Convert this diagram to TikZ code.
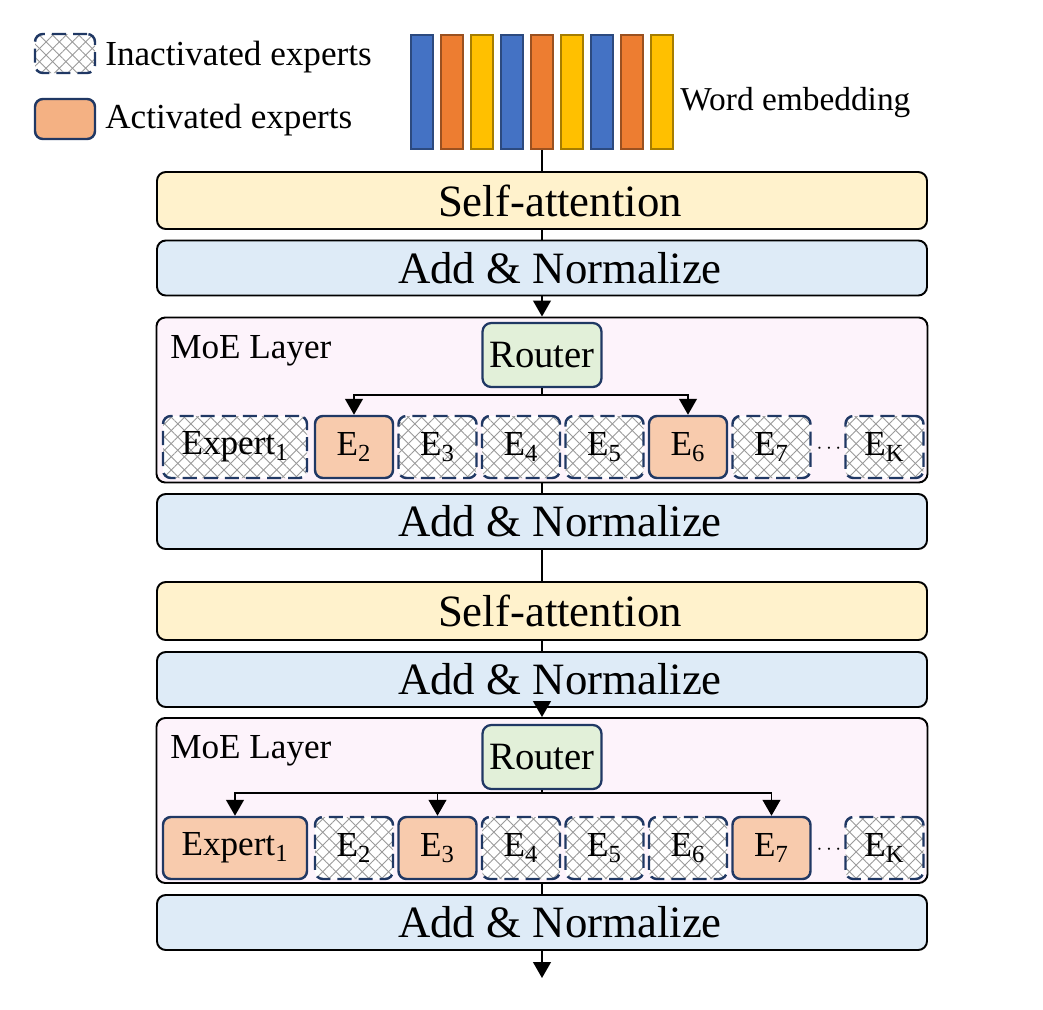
\documentclass[tikz,border=0pt]{standalone}
\usepackage{fontspec}
\setmainfont{Liberation Serif}
\usetikzlibrary{arrows.meta,patterns.meta}
\definecolor{navy}{HTML}{203864}
\definecolor{sacol}{HTML}{FFF2CC}
\definecolor{ancol}{HTML}{DEEBF7}
\definecolor{moecol}{HTML}{FDF3FB}
\definecolor{routercol}{HTML}{E2F0D9}
\definecolor{actcol}{HTML}{F8CBAD}
\definecolor{legactcol}{HTML}{F4B183}
\definecolor{hatchcol}{HTML}{9A9A9A}
\definecolor{wblue}{HTML}{4472C4}
\definecolor{worange}{HTML}{ED7D31}
\definecolor{wyellow}{HTML}{FFC000}
\begin{document}
\begin{tikzpicture}[
    every node/.style={inner sep=0pt},
    tip/.style={-{Triangle[length=9pt,width=10pt]}},
    wire/.style={line width=1.1pt},
    layerbox/.style={draw, line width=1.1pt, rounded corners=5pt, minimum width=15.4cm,
      execute at begin node=\hspace*{0.72cm}, font=\fontsize{25.5}{30}\selectfont},
    sabox/.style={layerbox, fill=sacol},
    anbox/.style={layerbox, fill=ancol, minimum height=1.1cm},
    moebox/.style={draw, line width=1.1pt, rounded corners=5pt, fill=moecol, minimum width=15.42cm, minimum height=3.3cm},
    router/.style={draw=navy, line width=1.3pt, rounded corners=5pt, fill=routercol,
      minimum width=2.38cm, minimum height=1.28cm, font=\fontsize{22}{26}\selectfont},
    expert/.style={draw=navy, line width=1.4pt, rounded corners=4.5pt, minimum width=1.56cm,
      minimum height=1.24cm, font=\fontsize{20}{24}\selectfont},
    act/.style={expert, fill=actcol},
    inact/.style={expert, dash pattern=on 8pt off 4pt, preaction={fill=white},
      preaction={pattern={Lines[angle=45,distance=5.3pt,line width=0.5pt]}, pattern color=hatchcol},
      preaction={pattern={Lines[angle=-45,distance=5.3pt,line width=0.5pt]}, pattern color=hatchcol}},
    wide/.style={minimum width=2.88cm},
    bar/.style={line width=1.1pt, minimum width=0.44cm, minimum height=2.28cm},
    txt/.style={font=\fontsize{20}{24}\selectfont},
    dotstxt/.style={font=\fontsize{12}{14}\selectfont}
  ]
    \useasboundingbox (0,0) rectangle (20.86,-20.2);

    % Legend
    \node[inact, minimum width=1.2cm, minimum height=0.78cm] (leginact) at (1.3,-1.07) {};
    \node[txt, anchor=base west] (leginacttxt) at (2.1,-1.3) {Inactivated experts};
    \node[act, fill=legactcol, minimum width=1.2cm, minimum height=0.8cm] (legact) at (1.3,-2.38) {};
    \node[txt, anchor=base west] (legacttxt) at (2.1,-2.56) {Activated experts};

    % Word embedding bars
    \node[bar, draw=wblue!65!black, fill=wblue]     (w0) at (8.44,-1.84) {};
    \node[bar, draw=worange!65!black, fill=worange] (w1) at (9.04,-1.84) {};
    \node[bar, draw=wyellow!65!black, fill=wyellow] (w2) at (9.64,-1.84) {};
    \node[bar, draw=wblue!65!black, fill=wblue]     (w3) at (10.24,-1.84) {};
    \node[bar, draw=worange!65!black, fill=worange] (w4) at (10.84,-1.84) {};
    \node[bar, draw=wyellow!65!black, fill=wyellow] (w5) at (11.44,-1.84) {};
    \node[bar, draw=wblue!65!black, fill=wblue]     (w6) at (12.04,-1.84) {};
    \node[bar, draw=worange!65!black, fill=worange] (w7) at (12.64,-1.84) {};
    \node[bar, draw=wyellow!65!black, fill=wyellow] (w8) at (13.24,-1.84) {};
    \node[font=\fontsize{19}{23}\selectfont, anchor=base west] (wordemb) at (13.6,-2.2) {Word embedding};

    % First block
    \node[sabox, minimum height=1.14cm] (sa1) at (10.84,-4.01) {Self-attention};
    \node[anbox] (an1) at (10.84,-5.36) {Add \& Normalize};
    \node[moebox] (moe1) at (10.84,-8.0) {};
    \node[txt, anchor=base west] (moelab1) at (3.4,-7.16) {MoE Layer};
    \node[router] (r1) at (10.84,-7.1) {Router};
    \node[inact, wide] (ea1) at (4.70,-8.94) {Expert\textsubscript{1}};
    \node[act]   (ea2) at (7.08,-8.94)  {E\textsubscript{2}};
    \node[inact] (ea3) at (8.75,-8.94)  {E\textsubscript{3}};
    \node[inact] (ea4) at (10.42,-8.94) {E\textsubscript{4}};
    \node[inact] (ea5) at (12.09,-8.94) {E\textsubscript{5}};
    \node[act]   (ea6) at (13.76,-8.94) {E\textsubscript{6}};
    \node[inact] (ea7) at (15.43,-8.94) {E\textsubscript{7}};
    \node[dotstxt] (dotsa) at (16.58,-8.98) {$\cdots$};
    \node[inact] (eaK) at (17.69,-8.94) {E\textsubscript{K}};
    \node[anbox] (an2) at (10.84,-10.43) {Add \& Normalize};

    % Second block
    \node[sabox, minimum height=1.16cm] (sa2) at (10.84,-12.22) {Self-attention};
    \node[anbox] (an3) at (10.84,-13.59) {Add \& Normalize};
    \node[moebox] (moe2) at (10.84,-16.01) {};
    \node[txt, anchor=base west] (moelab2) at (3.4,-15.16) {MoE Layer};
    \node[router] (r2) at (10.84,-15.14) {Router};
    \node[act, wide] (eb1) at (4.70,-16.96) {Expert\textsubscript{1}};
    \node[inact] (eb2) at (7.08,-16.96)  {E\textsubscript{2}};
    \node[act]   (eb3) at (8.75,-16.96)  {E\textsubscript{3}};
    \node[inact] (eb4) at (10.42,-16.96) {E\textsubscript{4}};
    \node[inact] (eb5) at (12.09,-16.96) {E\textsubscript{5}};
    \node[inact] (eb6) at (13.76,-16.96) {E\textsubscript{6}};
    \node[act]   (eb7) at (15.43,-16.96) {E\textsubscript{7}};
    \node[dotstxt] (dotsb) at (16.58,-17.0) {$\cdots$};
    \node[inact] (ebK) at (17.69,-16.96) {E\textsubscript{K}};
    \node[anbox] (an4) at (10.84,-18.45) {Add \& Normalize};
    \coordinate (out) at (10.84,-19.56);

    % Main flow
    \draw[wire] (w4.south) -- (sa1.north);
    \draw[wire] (sa1) -- (an1);
    \draw[wire, tip] (an1) -- (moe1);
    \draw[wire] (moe1) -- (an2);
    \draw[wire] (an2) -- (sa2);
    \draw[wire] (sa2) -- (an3);
    \draw[wire, tip] (an3) -- (moe2);
    \draw[wire] (moe2) -- (an4);
    \draw[wire, tip] (an4) -- (out);

    % Routing in the first MoE layer
    \coordinate (ba) at (10.84,-7.9);
    \draw[wire] (r1) -- (ba);
    \draw[wire, tip] (ba) -| (ea2);
    \draw[wire, tip] (ba) -| (ea6);

    % Routing in the second MoE layer
    \coordinate (bb) at (10.84,-15.86);
    \draw[wire] (r2) -- (bb);
    \draw[wire, tip] (bb) -| (eb1);
    \draw[wire, tip] (bb) -| (eb3);
    \draw[wire, tip] (bb) -| (eb7);
\end{tikzpicture}
\end{document}
